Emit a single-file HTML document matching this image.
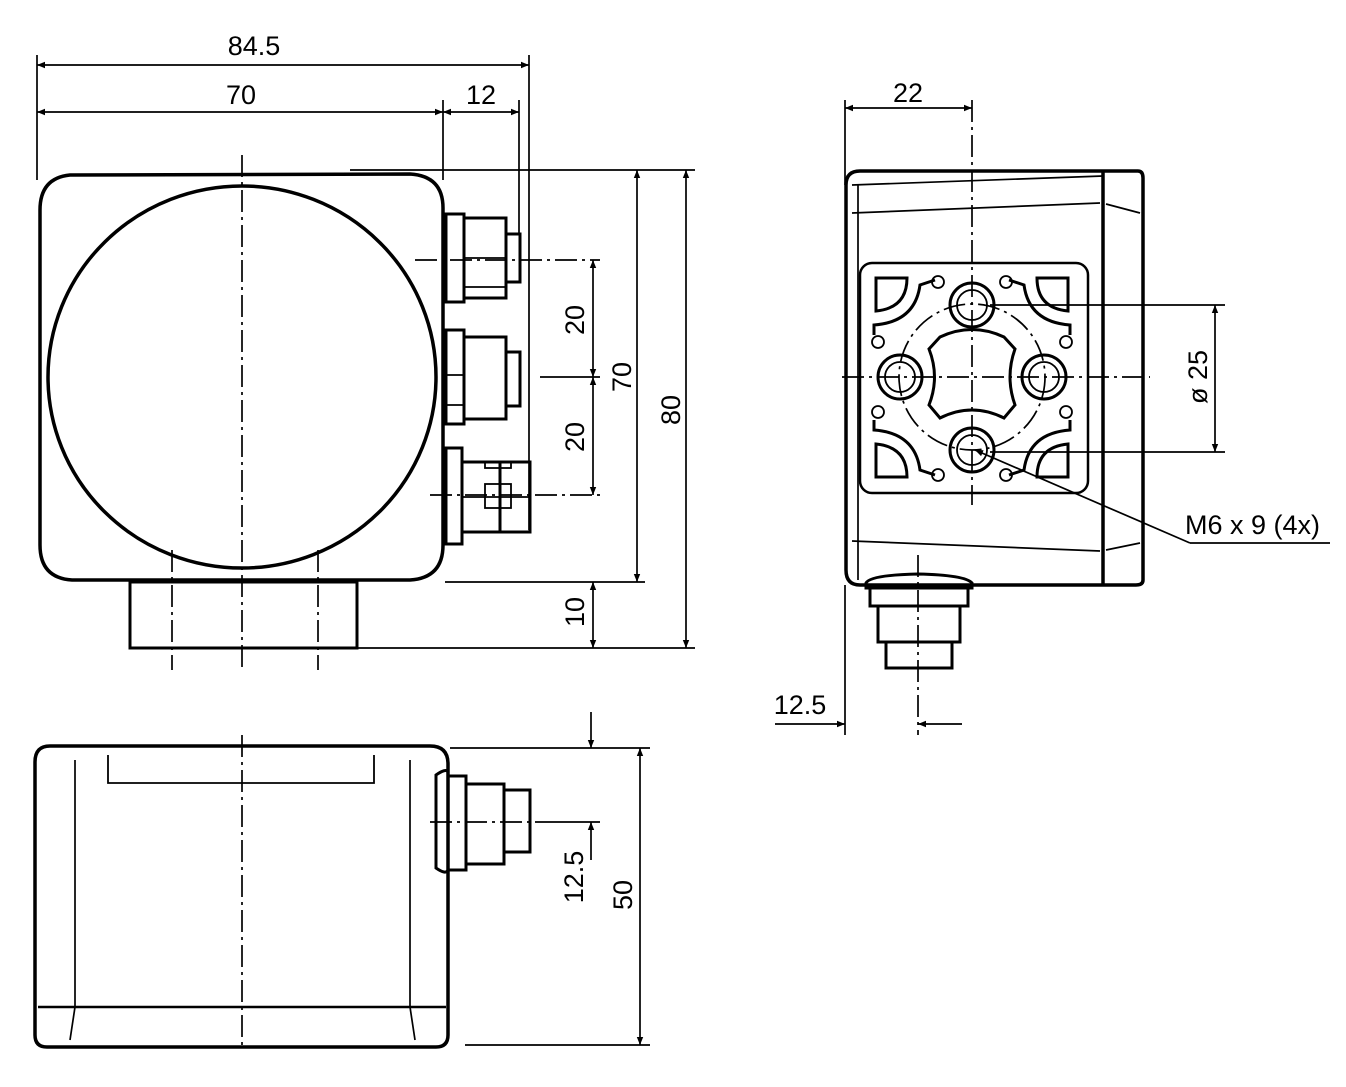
<!DOCTYPE html>
<html><head><meta charset="utf-8"><style>
html,body{margin:0;padding:0;background:#fff;}
svg{display:block;}
text{font-family:"Liberation Sans",Arial,sans-serif;font-size:27px;fill:#000;}
</style></head><body>
<svg width="1346" height="1087" viewBox="0 0 1346 1087" xmlns="http://www.w3.org/2000/svg">
<defs>
<marker id="a" viewBox="0 0 10 10" refX="10" refY="5" markerWidth="16" markerHeight="8" orient="auto-start-reverse" markerUnits="userSpaceOnUse"><path d="M0,1 L10,5 L0,9 z" fill="#000"/></marker>
</defs>
<g fill="none" stroke="#000">
<!-- TOP LEFT VIEW -->
<path d="M70,175 Q40,178 40,210 L40,545 Q40,578 72,580 L410,580 Q443,578 443,545 L443,208 Q443,176 410,174 Z" stroke-width="3.5"/>
<ellipse cx="242" cy="377" rx="194" ry="191" stroke-width="3.5"/>
<rect x="130" y="582" width="227" height="66" stroke-width="3"/>
<line x1="242" y1="155" x2="242" y2="670" stroke-width="1.7" stroke-dasharray="22,5,3,5"/>
<line x1="172" y1="550" x2="172" y2="670" stroke-width="1.7" stroke-dasharray="22,5,3,5"/>
<line x1="318" y1="550" x2="318" y2="670" stroke-width="1.7" stroke-dasharray="22,5,3,5"/>
<g stroke-width="3">
<rect x="446" y="214" width="18" height="88"/><rect x="464" y="218" width="42" height="80"/><rect x="506" y="234" width="14" height="48"/>
<rect x="446" y="330" width="18" height="94"/><rect x="464" y="337" width="42" height="82"/><rect x="506" y="352" width="14" height="54"/>
<rect x="446" y="448" width="16" height="96"/><rect x="462" y="462" width="38" height="70"/><rect x="500" y="462" width="30" height="70"/>
</g>
<g stroke-width="1.8"><line x1="464" y1="287" x2="506" y2="287"/><line x1="464" y1="258" x2="506" y2="258"/><line x1="446" y1="375" x2="464" y2="375"/><line x1="446" y1="405" x2="464" y2="405"/><line x1="462" y1="497" x2="530" y2="497"/><rect x="485" y="484" width="26" height="24"/><rect x="485" y="462" width="26" height="6"/></g>
<g stroke-width="1.7">
<line x1="37" y1="55" x2="37" y2="180"/><line x1="529" y1="55" x2="529" y2="530"/>
<line x1="443" y1="100" x2="443" y2="180"/><line x1="519" y1="100" x2="519" y2="235"/>
<line x1="350" y1="170" x2="695" y2="170"/><line x1="540" y1="377" x2="600" y2="377"/>
<line x1="445" y1="582" x2="645" y2="582"/><line x1="357" y1="648" x2="695" y2="648"/>
<line x1="415" y1="260" x2="600" y2="260" stroke-dasharray="22,5,3,5"/>
<line x1="430" y1="495" x2="600" y2="495" stroke-dasharray="22,5,3,5"/>
<line x1="37" y1="65" x2="529" y2="65" marker-start="url(#a)" marker-end="url(#a)"/>
<line x1="37" y1="112" x2="443" y2="112" marker-start="url(#a)" marker-end="url(#a)"/>
<line x1="443" y1="112" x2="519" y2="112" marker-start="url(#a)" marker-end="url(#a)"/>
<line x1="686" y1="170" x2="686" y2="648" marker-start="url(#a)" marker-end="url(#a)"/>
<line x1="637" y1="170" x2="637" y2="582" marker-start="url(#a)" marker-end="url(#a)"/>
<line x1="593" y1="260" x2="593" y2="377" marker-start="url(#a)" marker-end="url(#a)"/>
<line x1="593" y1="377" x2="593" y2="495" marker-start="url(#a)" marker-end="url(#a)"/>
<line x1="593" y1="582" x2="593" y2="648" marker-start="url(#a)" marker-end="url(#a)"/>
</g>
<!-- RIGHT VIEW -->
<path d="M860,171 L1138,171 Q1143,171 1143,178 L1143,580 Q1143,585 1136,585 L860,585 Q846,585 846,570 L846,185 Q846,171 860,171 Z" stroke-width="3.5"/>
<line x1="1103" y1="171" x2="1103" y2="585" stroke-width="3.5"/>
<line x1="852" y1="185" x2="1103" y2="176" stroke-width="1.7"/><line x1="852" y1="213" x2="1100" y2="203" stroke-width="1.7"/>
<line x1="852" y1="541" x2="1100" y2="551" stroke-width="1.7"/><line x1="1106" y1="204" x2="1140" y2="213" stroke-width="1.7"/><line x1="1106" y1="550" x2="1140" y2="543" stroke-width="1.7"/>
<line x1="858" y1="185" x2="858" y2="580" stroke-width="1.7"/>
<rect x="860" y="263" width="228" height="230" rx="12" stroke-width="2.5"/>
<g stroke-width="3">
<circle cx="972" cy="305" r="22"/><circle cx="900" cy="377" r="22"/><circle cx="1044" cy="377" r="22"/><circle cx="972" cy="450" r="22"/>
</g>
<g stroke-width="1.8">
<circle cx="972" cy="305" r="15"/><circle cx="900" cy="377" r="15"/><circle cx="1044" cy="377" r="15"/><circle cx="972" cy="450" r="15"/>
<path d="M940,337 Q972,322 1004,337 L1015,349 Q1005,377 1015,405 L1004,418 Q972,402 940,418 L929,405 Q940,377 929,349 Z" stroke-width="3"/>
<path d="M876,278 L907,278 Q907,308 876,311 Z" stroke-width="3"/><path d="M1068,278 L1037,278 Q1037,308 1068,311 Z" stroke-width="3"/>
<path d="M876,477 L907,477 Q907,447 876,444 Z" stroke-width="3"/><path d="M1068,477 L1037,477 Q1037,447 1068,444 Z" stroke-width="3"/>
<path d="M874,335 L874,325 Q915,322 920,285 L935,280 M1070,335 L1070,325 Q1029,322 1024,285 L1009,280 M874,420 L874,430 Q915,433 920,470 L935,475 M1070,420 L1070,430 Q1029,433 1024,470 L1009,475" stroke-width="3"/>
<circle cx="938" cy="282" r="6"/><circle cx="1006" cy="282" r="6"/><circle cx="878" cy="342" r="6"/><circle cx="1066" cy="342" r="6"/>
<circle cx="878" cy="412" r="6"/><circle cx="1066" cy="412" r="6"/><circle cx="938" cy="475" r="6"/><circle cx="1006" cy="475" r="6"/>
</g>
<circle cx="972" cy="377" r="73" stroke-width="1.7" stroke-dasharray="22,5,3,5"/>
<g stroke-width="3">
<path d="M866,583 Q870,575 918,574 Q965,575 972,583 L972,588 L866,588 Z"/>
<rect x="870" y="588" width="98" height="18"/><rect x="878" y="606" width="82" height="36"/><rect x="886" y="642" width="66" height="26"/>
</g>
<g stroke-width="1.7">
<line x1="972" y1="100" x2="972" y2="505" stroke-dasharray="22,5,3,5"/>
<line x1="842" y1="377" x2="1150" y2="377" stroke-dasharray="22,5,3,5"/>
<line x1="918" y1="555" x2="918" y2="735" stroke-dasharray="22,5,3,5"/>
<line x1="845" y1="100" x2="845" y2="185"/><line x1="845" y1="585" x2="845" y2="735"/>
<line x1="845" y1="108" x2="972" y2="108" marker-start="url(#a)" marker-end="url(#a)"/>
<line x1="990" y1="305" x2="1225" y2="305"/><line x1="990" y1="452" x2="1225" y2="452"/>
<line x1="1215" y1="305" x2="1215" y2="452" marker-start="url(#a)" marker-end="url(#a)"/>
<line x1="1190" y1="543" x2="975" y2="450" marker-end="url(#a)"/><line x1="1190" y1="543" x2="1330" y2="543"/>
<line x1="775" y1="724" x2="845" y2="724" marker-end="url(#a)"/><line x1="962" y1="724" x2="918" y2="724" marker-end="url(#a)"/>
</g>
<!-- BOTTOM VIEW -->
<path d="M50,746 L430,746 Q448,746 448,764 L448,1035 Q448,1047 436,1047 L47,1047 Q35,1047 35,1035 L35,762 Q35,746 50,746 Z" stroke-width="3.5"/>
<line x1="38" y1="1007" x2="446" y2="1007" stroke-width="2.5"/>
<line x1="75" y1="760" x2="75" y2="1007" stroke-width="1.7"/><line x1="410" y1="760" x2="410" y2="1007" stroke-width="1.7"/>
<line x1="75" y1="1007" x2="70" y2="1040" stroke-width="1.7"/><line x1="410" y1="1007" x2="415" y2="1040" stroke-width="1.7"/>
<path d="M108,755 L108,783 L374,783 L374,755" stroke-width="1.8"/>
<line x1="242" y1="735" x2="242" y2="1050" stroke-width="1.7" stroke-dasharray="22,5,3,5"/>
<g stroke-width="3">
<path d="M436,775 Q446,768 448,772 L448,870 Q446,875 436,868 Z"/>
<rect x="448" y="776" width="18" height="94"/><rect x="466" y="784" width="38" height="80"/><rect x="504" y="790" width="26" height="62"/>
</g>
<g stroke-width="1.7">
<line x1="430" y1="822" x2="545" y2="822" stroke-dasharray="22,5,3,5"/>
<line x1="450" y1="748" x2="650" y2="748"/><line x1="545" y1="822" x2="600" y2="822"/><line x1="465" y1="1045" x2="650" y2="1045"/>
<line x1="591" y1="712" x2="591" y2="748" marker-end="url(#a)"/><line x1="591" y1="860" x2="591" y2="822" marker-end="url(#a)"/>
<line x1="640" y1="748" x2="640" y2="1045" marker-start="url(#a)" marker-end="url(#a)"/>
</g>
</g>
<text x="254" y="55" text-anchor="middle">84.5</text>
<text x="241" y="104" text-anchor="middle">70</text>
<text x="481" y="104" text-anchor="middle">12</text>
<text x="908" y="102" text-anchor="middle">22</text>
<text x="800" y="714" text-anchor="middle">12.5</text>
<text x="1185" y="534">M6 x 9 (4x)</text>
<text transform="translate(584,320) rotate(-90)" text-anchor="middle">20</text>
<text transform="translate(584,437) rotate(-90)" text-anchor="middle">20</text>
<text transform="translate(584,612) rotate(-90)" text-anchor="middle">10</text>
<text transform="translate(631,377) rotate(-90)" text-anchor="middle">70</text>
<text transform="translate(680,410) rotate(-90)" text-anchor="middle">80</text>
<text transform="translate(1207,377) rotate(-90)" text-anchor="middle">ø 25</text>
<text transform="translate(583,877) rotate(-90)" text-anchor="middle">12.5</text>
<text transform="translate(632,895) rotate(-90)" text-anchor="middle">50</text>
</svg>
</body></html>
